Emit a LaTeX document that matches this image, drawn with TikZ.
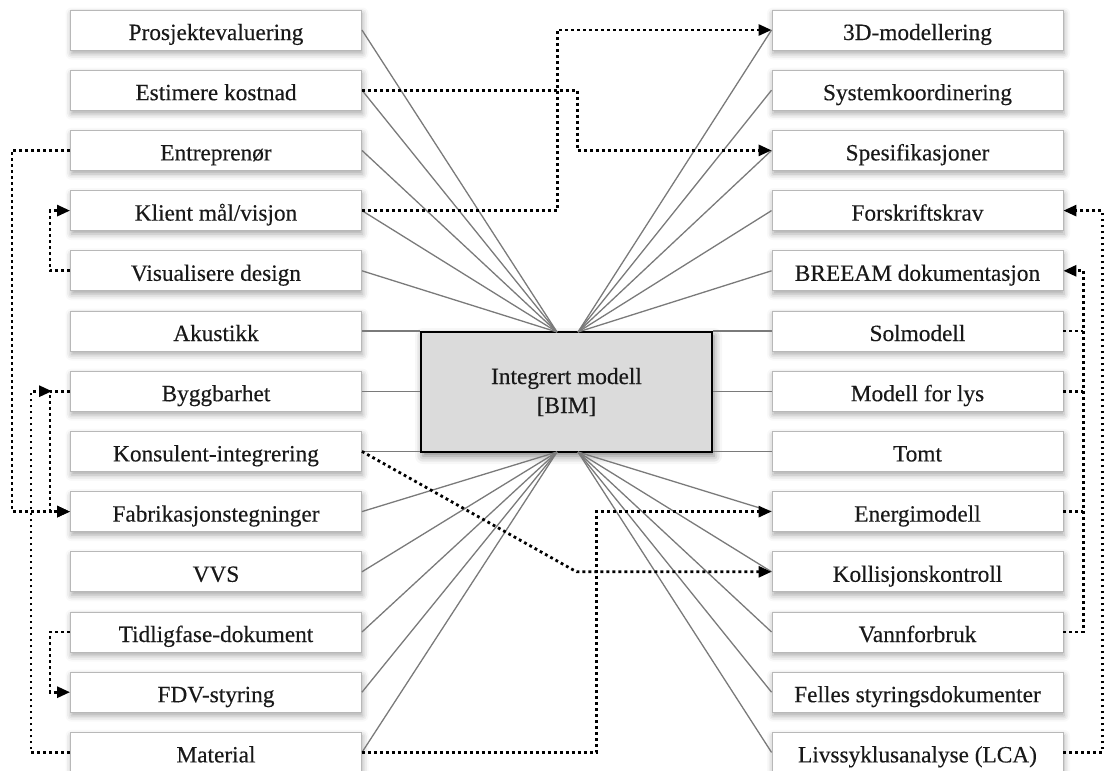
\documentclass[tikz,border=0pt]{standalone}
\usepackage{fontspec}
\setmainfont{Liberation Serif}[FakeBold=0.3]
\usetikzlibrary{arrows.meta,shadows.blur,calc}

\begin{document}
\begin{tikzpicture}[x=1pt,y=-1pt,
  item/.style={draw=black!28, line width=0.9pt, fill=white,
    minimum width=291pt, minimum height=40pt, inner sep=0pt,
    text height=20pt, text depth=0pt,
    font=\fontsize{23.3}{28}\selectfont, text=black!90,
    blur shadow={shadow xshift=1pt, shadow yshift=-3.5pt,
      shadow blur radius=6pt, shadow opacity=35}},
  hub/.style={draw=black, line width=1.6pt, fill=black!14,
    minimum width=291pt, minimum height=120pt, inner sep=0pt,
    align=center, font=\fontsize{23.3}{29}\selectfont, text=black!90,
    blur shadow={shadow xshift=2pt, shadow yshift=-4pt,
      shadow blur radius=8pt, shadow opacity=50}},
  link/.style={draw=black!52, line width=1.3pt},
  dotline/.style={draw=black, line width=2.8pt, dash pattern=on 2.8pt off 3.2pt},
  dotarrow/.style={dotline, -{Triangle[length=13pt,width=11pt]}}
]
\useasboundingbox (0,0) rectangle (1104,771);

% central model
\node[hub] (hub) at (566.5,392) {\rule{0pt}{6pt}Integrert modell\\{}[BIM]};
\coordinate (tl) at (557,332);
\coordinate (tr) at (578,332);
\coordinate (bl) at (557,452);
\coordinate (br) at (578,452);

% left column
\foreach \i/\t in {1/Prosjektevaluering, 2/Estimere kostnad, 3/Entreprenør,
  4/Klient mål\slash visjon, 5/Visualisere design, 6/Akustikk, 7/Byggbarhet,
  8/Konsulent-integrering, 9/Fabrikasjonstegninger, 10/VVS,
  11/Tidligfase-dokument, 12/FDV-styring, 13/Material}
  \node[item] (L\i) at (216,{30+60.2*(\i-1)}) {\t};

% right column
\foreach \i/\t in {1/3D-modellering, 2/Systemkoordinering, 3/Spesifikasjoner,
  4/Forskriftskrav, 5/BREEAM dokumentasjon, 6/Solmodell, 7/Modell for lys,
  8/Tomt, 9/Energimodell, 10/Kollisjonskontroll, 11/Vannforbruk,
  12/Felles styringsdokumenter, 13/Livssyklusanalyse (LCA)}
  \node[item] (R\i) at (917.5,{30+60.2*(\i-1)}) {\t};

% links to the model
\foreach \i in {1,...,5} {
  \draw[link] (L\i.east) -- (tl);
  \draw[link] (R\i.west) -- (tr);
}
\foreach \i in {6,7,8} {
  \draw[link] (L\i.east) -- (L\i.east -| hub.west);
  \draw[link] (R\i.west) -- (R\i.west -| hub.east);
}
\foreach \i in {9,...,13} {
  \draw[link] (L\i.east) -- (bl);
  \draw[link] (R\i.west) -- (br);
}

% information flows (dotted)
\draw[dotarrow] (L2.east) -- ++(215.5,0) |- (R3.west);
\draw[dotarrow] (L4.east) -- ++(195.5,0) |- (R1.west);
\draw[dotarrow] (L3.west) -- ++(-58,0) |- (L9.west);
\draw[dotarrow] (L5.west) -- ++(-20,0) |- (L4.west);
\draw[dotarrow] (L7.west) -- ++(-20,0) |- (L9.west);
\draw[dotarrow, shorten >=18pt] (L13.west) -- ++(-39,0) |- (L7.west);
\draw[dotarrow] (L11.west) -- ++(-20,0) |- (L12.west);
\draw[dotarrow] (L8.east) -- ([xshift=-195pt]R10.west) -- (R10.west);
\draw[dotarrow] (L13.east) -- ++(234.5,0) |- (R9.west);

\draw[dotarrow] (R11.east) -- ++(20,0) |- (R5.east);
\foreach \i in {6,7,9}
  \draw[dotline] (R\i.east) -- ++(20,0);
\draw[dotarrow] (R13.east) -- ++(39,0) |- (R4.east);

\end{tikzpicture}
\end{document}
